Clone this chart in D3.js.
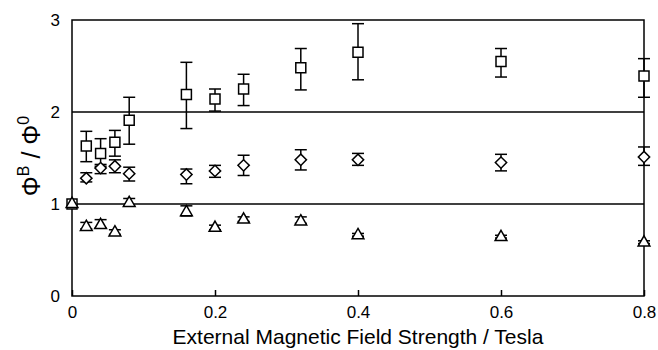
<!DOCTYPE html>
<html>
<head>
<meta charset="utf-8">
<script src="https://cdn.jsdelivr.net/npm/d3@7"></script>
<style>
  body { margin: 0; background: #fff; }
  text { font-family: "Liberation Sans", Arial, sans-serif; }
</style>
</head>
<body>
<div id="chart"></div>
<script>
var width = 658;
var height = 350;
var margin = { top: 20, right: 14, bottom: 54, left: 72 };

// Field strength (Tesla)
var fields = [0, 0.02, 0.04, 0.06, 0.08, 0.16, 0.2, 0.24, 0.32, 0.4, 0.6, 0.8];

// Square series
var squareVal = [1.0, 1.63, 1.55, 1.67, 1.91, 2.19, 2.14, 2.25, 2.48, 2.65, 2.55, 2.39];
var squareLo  = [1.0, 1.46, 1.41, 1.52, 1.65, 1.82, 2.01, 2.07, 2.24, 2.35, 2.38, 2.16];
var squareHi  = [1.0, 1.79, 1.71, 1.80, 2.16, 2.54, 2.25, 2.41, 2.69, 2.96, 2.69, 2.58];

// Diamond series
var diamondVal = [null, 1.28, 1.39, 1.41, 1.33, 1.32, 1.36, 1.42, 1.48, 1.48, 1.45, 1.51];
var diamondLo  = [null, 1.24, 1.33, 1.34, 1.25, 1.22, 1.29, 1.31, 1.37, 1.42, 1.36, 1.42];
var diamondHi  = [null, 1.34, 1.43, 1.48, 1.40, 1.38, 1.42, 1.53, 1.59, 1.55, 1.54, 1.62];

// Triangle series
var triangleVal = [1.0, 0.75, 0.77, 0.69, 1.01, 0.91, 0.74, 0.83, 0.81, 0.66, 0.64, 0.58];
var triangleLo  = [1.0, 0.73, 0.74, 0.67, 0.98, 0.87, 0.72, 0.81, 0.79, 0.65, 0.63, 0.57];
var triangleHi  = [1.0, 0.80, 0.83, 0.72, 1.06, 0.98, 0.77, 0.86, 0.86, 0.68, 0.66, 0.60];

var xTicks = [0, 0.2, 0.4, 0.6, 0.8];
var yTicks = [0, 1, 2, 3];
var gridValues = [1, 2];

var svg = d3.select("#chart")
    .append("svg")
    .attr("width", width)
    .attr("height", height);

var x = d3.scaleLinear().domain([0, 0.8]).range([margin.left, width - margin.right]);
var y = d3.scaleLinear().domain([0, 3]).range([height - margin.bottom, margin.top]);

// Gridlines at 1 and 2
svg.selectAll(".grid")
    .data(gridValues)
    .enter()
    .append("line")
    .attr("x1", x(0)).attr("x2", x(0.8))
    .attr("y1", function (d) { return y(d); })
    .attr("y2", function (d) { return y(d); })
    .attr("stroke", "#000")
    .attr("stroke-width", 1.3);

// Frame
svg.append("rect")
    .attr("x", x(0)).attr("y", y(3))
    .attr("width", x(0.8) - x(0))
    .attr("height", y(0) - y(3))
    .attr("fill", "none")
    .attr("stroke", "#000")
    .attr("stroke-width", 1.5);

// Axes
var xAxis = svg.append("g")
    .attr("transform", "translate(0," + y(0) + ")")
    .call(d3.axisBottom(x).tickValues(xTicks).tickSizeInner(-6).tickSizeOuter(0)
        .tickFormat(function (d) { return d === 0 ? "0" : d3.format(".1f")(d); }));
xAxis.select(".domain").remove();
xAxis.selectAll("line").attr("stroke", "#000").attr("stroke-width", 1.5);
xAxis.selectAll("text").attr("y", 10).attr("font-size", 17).attr("fill", "#000")
    .style("font-family", "Liberation Sans, Arial, sans-serif");

var yAxis = svg.append("g")
    .attr("transform", "translate(" + x(0) + ",0)")
    .call(d3.axisLeft(y).tickValues(yTicks).tickSize(0).tickPadding(12).tickFormat(d3.format("d")));
yAxis.select(".domain").remove();
yAxis.selectAll("text").attr("font-size", 17).attr("fill", "#000")
    .style("font-family", "Liberation Sans, Arial, sans-serif");

// Axis titles
svg.append("text")
    .attr("x", (x(0) + x(0.8)) / 2)
    .attr("y", 344)
    .attr("text-anchor", "middle")
    .attr("font-size", 21)
    .text("External Magnetic Field Strength / Tesla");

var yt = svg.append("text")
    .attr("transform", "translate(40,156) rotate(-90)")
    .attr("text-anchor", "middle")
    .attr("font-size", 25);
yt.append("tspan").text("Φ");
yt.append("tspan").attr("dy", -11).attr("font-size", 16).text("B");
yt.append("tspan").attr("dy", 11).text(" / Φ");
yt.append("tspan").attr("dy", -11).attr("font-size", 16).text("0");

// Build series
function makeSeries(vals, lo, hi) {
    return fields.map(function (f, i) {
        return { x: f, v: vals[i], lo: lo[i], hi: hi[i] };
    }).filter(function (d) { return d.v !== null; });
}

var series = [
    { name: "square", data: makeSeries(squareVal, squareLo, squareHi), symbol: d3.symbolSquare, size: 100, rot: 0 },
    { name: "diamond", data: makeSeries(diamondVal, diamondLo, diamondHi), symbol: d3.symbolSquare, size: 64, rot: 45 },
    { name: "triangle", data: makeSeries(triangleVal, triangleLo, triangleHi), symbol: d3.symbolTriangle, size: 60, rot: 0 }
];

var capW = 6;

series.forEach(function (s) {
    var g = svg.append("g").attr("class", s.name);
    var eb = g.selectAll(".eb")
        .data(s.data.filter(function (d) { return d.hi !== d.lo; }))
        .enter().append("g")
        .attr("stroke", "#000").attr("stroke-width", 1.5);
    eb.append("line")
        .attr("x1", function (d) { return x(d.x); })
        .attr("x2", function (d) { return x(d.x); })
        .attr("y1", function (d) { return y(d.lo); })
        .attr("y2", function (d) { return y(d.hi); });
    eb.append("line")
        .attr("x1", function (d) { return x(d.x) - capW; })
        .attr("x2", function (d) { return x(d.x) + capW; })
        .attr("y1", function (d) { return y(d.hi); })
        .attr("y2", function (d) { return y(d.hi); });
    eb.append("line")
        .attr("x1", function (d) { return x(d.x) - capW; })
        .attr("x2", function (d) { return x(d.x) + capW; })
        .attr("y1", function (d) { return y(d.lo); })
        .attr("y2", function (d) { return y(d.lo); });

    g.selectAll(".pt")
        .data(s.data)
        .enter()
        .append("path")
        .attr("d", d3.symbol().type(s.symbol).size(s.size))
        .attr("transform", function (d) {
            return "translate(" + x(d.x) + "," + y(d.v) + ") rotate(" + s.rot + ")";
        })
        .attr("fill", "#fff")
        .attr("stroke", "#000")
        .attr("stroke-width", 1.5);
});
</script>
</body>
</html>
